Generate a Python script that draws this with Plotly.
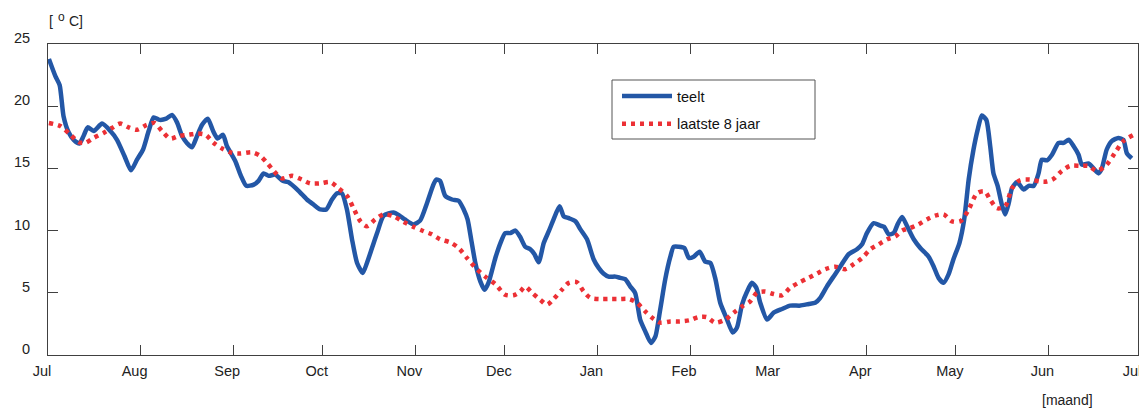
import pandas as pd
import plotly.graph_objects as go

# --- data (day offset from 1 July, temperature in deg C) ---
teelt_days = [0.3, 2.5, 3.9, 5.2, 6.9, 8.6, 10.5, 11.9, 13.3, 15.3, 18.1, 20.9, 23.1, 25.6, 27.8,
              29.8, 31.8, 33.7, 35.4, 37.4, 39.6, 41.5, 43.2, 44.9, 46.5, 48.2, 49.9, 51.6, 53.5,
              55.3, 56.8, 58.6, 59.9, 62.7, 64.6, 66.4, 68.9, 70.5, 72.2, 73.9, 76.1, 78.6, 80.4,
              83.9, 86.7, 88.9, 91.2, 93.2, 95.1, 96.8, 98.4, 100.1, 101.8, 103.5, 105.4, 106.8,
              108.5, 110.2, 112.4, 115.7, 117.7, 119.5, 122.4, 124.6, 126.9, 128.9, 130.0, 131.3,
              133.0, 135.3, 137.5, 139.2, 140.5, 141.7, 143.1, 144.8, 146.2, 147.5, 149.8, 151.5,
              153.1, 154.8, 156.5, 158.1, 159.8, 161.5, 162.9, 164.3, 166.0, 167.7, 169.3, 171.3,
              172.7, 174.4, 176.6, 178.3, 180.5, 182.7, 184.4, 186.0, 187.7, 190.0, 191.6, 193.3,
              195.0, 196.6, 198.3, 200.0, 201.9, 203.4, 205.0, 206.7, 208.4, 209.5, 211.2, 213.1,
              214.6, 216.2, 218.2, 220.1, 221.8, 223.5, 225.1, 227.4, 229.3, 230.7, 232.4, 234.1,
              235.7, 237.2, 238.5, 240.8, 243.0, 245.8, 248.5, 251.9, 254.7, 256.9, 258.6, 260.8,
              263.6, 265.8, 268.1, 270.9, 272.6, 274.2, 276.5, 278.7, 280.0, 281.5, 283.2, 284.5,
              286.0, 287.7, 289.9, 292.1, 294.9, 296.6, 298.2, 299.9, 301.6, 303.2, 305.2, 306.8,
              308.3, 309.9, 311.3, 312.7, 314.2, 315.5, 316.6, 318.0, 319.4, 320.5, 321.7, 322.8,
              324.5, 326.7, 328.4, 330.1, 331.7, 332.8, 334.5, 336.2, 338.4, 340.1, 341.8, 343.4,
              345.1, 346.2, 348.4, 350.1, 351.8, 352.9, 354.5, 356.2, 358.4, 360.1, 361.3, 362.9]
teelt_temp = [23.8, 22.4, 21.7, 19.2, 17.9, 17.3, 17.0, 17.6, 18.3, 18.0, 18.6, 18.0, 17.3, 16.0, 14.85,
              15.7, 16.5, 18.0, 19.1, 18.9, 19.0, 19.3, 18.7, 17.6, 17.05, 16.7, 17.6, 18.5, 19.0,
              18.0, 17.4, 17.7, 16.8, 15.6, 14.4, 13.6, 13.7, 14.0, 14.6, 14.4, 14.5, 14.0, 13.9,
              13.2, 12.5, 12.1, 11.7, 11.7, 12.5, 13.0, 13.0, 11.7, 9.3, 7.4, 6.6, 7.4,
              8.6, 9.8, 11.2, 11.45, 11.2, 10.9, 10.5, 10.8, 12.2, 13.6, 14.1, 14.0,
              12.8, 12.5, 12.4, 11.7, 10.9, 9.3, 7.4, 5.9, 5.25, 5.8, 7.8, 9.0,
              9.8, 9.8, 10.0, 9.5, 8.7, 8.5, 8.1, 7.45, 9.0, 9.95, 10.9, 11.96,
              11.15, 11.0, 10.75, 10.1, 9.3, 7.7, 7.0, 6.55, 6.3, 6.3, 6.2, 6.1,
              5.5, 5.0, 2.85, 1.9, 0.97, 1.5, 3.65, 6.1, 7.9, 8.7, 8.7, 8.6,
              7.8, 7.9, 8.3, 7.5, 7.4, 6.1, 4.2, 2.85, 1.8, 2.2, 4.05, 5.1,
              5.8, 5.4, 4.2, 2.85, 3.4, 3.7, 3.97, 3.97, 4.1, 4.2, 4.6, 5.5,
              6.5, 7.3, 8.1, 8.5, 8.9, 9.8, 10.6, 10.4, 10.3, 9.7, 9.8, 10.5,
              11.1, 10.35, 9.3, 8.6, 7.9, 7.1, 6.2, 5.8, 6.5, 7.7, 9.0, 10.9,
              14.1, 16.5, 18.1, 19.25, 18.9, 16.8, 14.6, 13.6, 12.1, 11.3, 12.2, 13.4,
              13.9, 13.3, 13.6, 13.6, 14.6, 15.7, 15.65, 16.1, 17.05, 17.05, 17.3, 16.8,
              16.1, 15.3, 15.4, 15.0, 14.6, 15.0, 16.5, 17.2, 17.45, 17.3, 16.2, 15.8]

avg_days = [0.3, 4.1, 7.5, 10.3, 12.5, 15.3, 18.6, 21.4, 24.2, 27.0, 29.8, 33.1, 35.6, 38.2, 40.9,
            43.8, 47.1, 49.9, 52.7, 55.5, 58.3, 61.6, 64.4, 68.3, 71.1, 73.3, 75.6, 78.3, 81.7,
            85.0, 87.8, 91.2, 94.5, 97.3, 100.1, 102.3, 104.6, 106.8, 109.6, 112.4, 115.7, 119.0,
            122.4, 125.8, 128.5, 131.3, 134.7, 137.5, 140.3, 143.6, 146.4, 149.8, 153.1, 155.9,
            158.1, 159.8, 162.1, 164.8, 167.1, 169.3, 172.1, 174.4, 177.1, 179.4, 181.6, 185.0,
            188.3, 191.6, 194.5, 197.2, 200.0, 202.8, 205.0, 208.4, 211.7, 215.0, 217.8, 220.6,
            223.4, 226.8, 229.6, 232.4, 235.1, 237.4, 240.1, 243.0, 245.8, 248.5, 251.3, 254.7,
            257.5, 260.3, 263.6, 267.0, 269.8, 272.6, 275.4, 278.2, 281.0, 283.8, 286.0, 288.7,
            291.5, 294.3, 297.1, 299.9, 302.7, 305.5, 308.3, 311.1, 313.6, 315.5, 317.8, 320.5,
            322.8, 325.5, 328.9, 332.3, 334.5, 336.7, 339.5, 342.3, 345.7, 348.4, 351.2, 354.5,
            357.3, 360.1, 363.5]
avg_temp = [18.65, 18.4, 17.7, 17.1, 17.05, 17.45, 17.85, 18.25, 18.6, 18.3, 18.1, 18.5, 18.65, 18.0, 17.4,
            17.6, 17.7, 17.8, 17.7, 17.05, 16.6, 16.25, 16.2, 16.3, 16.0, 15.45, 14.8, 14.2, 14.4,
            14.1, 13.8, 13.8, 13.9, 13.4, 12.8, 11.8, 10.75, 10.35, 10.9, 11.3, 11.15, 10.7,
            10.3, 9.95, 9.7, 9.3, 9.05, 8.6, 7.8, 6.9, 6.3, 5.7, 4.85, 4.8,
            5.1, 5.5, 5.0, 4.45, 4.05, 4.5, 5.25, 5.8, 5.85, 5.1, 4.6, 4.5,
            4.5, 4.5, 4.5, 4.2, 3.5, 2.9, 2.6, 2.7, 2.7, 2.8, 3.05, 3.05,
            2.6, 2.85, 3.4, 3.9, 4.3, 5.0, 5.1, 4.9, 4.8, 5.4, 5.8, 6.2,
            6.55, 6.9, 7.1, 6.9, 7.3, 7.8, 8.5, 8.9, 9.3, 9.55, 10.0, 10.2,
            10.5, 10.9, 11.2, 11.3, 10.75, 10.75, 11.7, 13.0, 13.15, 12.5, 11.8, 11.95,
            13.4, 14.05, 14.1, 13.95, 13.95, 14.15, 14.8, 15.2, 15.2, 15.2, 14.8, 15.3,
            16.25, 17.2, 17.7]

series_names = ["teelt", "laatste 8 jaar"]

start = pd.Timestamp("2001-07-01")
end = pd.Timestamp("2002-07-01")
x_teelt = start + pd.to_timedelta(teelt_days, unit="D")
x_avg = start + pd.to_timedelta(avg_days, unit="D")

BLUE = "#2357A6"
RED = "#EC3035"
AX = "#404040"
TXT = "#222"
FONT = "Liberation Sans, Arial, Helvetica, sans-serif"

fig = go.Figure()
fig.add_trace(go.Scatter(x=x_teelt, y=teelt_temp, mode="lines", name=series_names[0],
                         line=dict(color=BLUE, width=4.5, shape="spline", smoothing=0.6),
                         legendgroup="a"))
fig.add_trace(go.Scatter(x=x_avg, y=avg_temp, mode="lines", name=series_names[1],
                         line=dict(color=RED, width=4.5, dash="4px,5px", shape="spline", smoothing=0.8),
                         legendgroup="b"))

# page body has an 8px default margin -> figure sits at (8, 8) in the window
OFF = 8
W, H = 1139, 404
plot_l, plot_t = 40, 36
plot_r = W - (1138 - OFF)
plot_b = H - (355 - OFF)
pw = W - plot_l - plot_r
ph = H - plot_t - plot_b

def px_x(sx):
    return (sx - OFF - plot_l) / pw

def px_y(sy):
    return (H - plot_b - (sy - OFF)) / ph

fig.update_layout(
    width=W, height=H, autosize=False,
    margin=dict(l=plot_l, r=plot_r, t=plot_t, b=plot_b, autoexpand=False, pad=0),
    plot_bgcolor="white", paper_bgcolor="white",
    font=dict(family=FONT, size=14, color=TXT),
    showlegend=True,
    legend=dict(x=px_x(617), y=px_y(80), xanchor="left", yanchor="top",
                bgcolor="rgba(255,255,255,0)", borderwidth=0,
                font=dict(family=FONT, size=14.5, color="#111"),
                traceorder="grouped", tracegroupgap=6, itemwidth=50),
    shapes=[dict(type="rect", xref="paper", yref="paper",
                 x0=px_x(612), x1=px_x(815), y0=px_y(139), y1=px_y(80),
                 line=dict(color="#555", width=1), fillcolor="rgba(0,0,0,0)", layer="above")],
    annotations=[
        dict(text="[", xref="paper", yref="paper", x=px_x(47), y=px_y(21),
             xanchor="left", yanchor="middle", showarrow=False, font=dict(size=14, color=TXT)),
        dict(text="o", xref="paper", yref="paper", x=px_x(61), y=px_y(8.5),
             xanchor="center", yanchor="top", showarrow=False, font=dict(size=12, color=TXT)),
        dict(text="C]", xref="paper", yref="paper", x=px_x(67), y=px_y(21),
             xanchor="left", yanchor="middle", showarrow=False, font=dict(size=14, color=TXT)),
        dict(text="[maand]", xref="paper", yref="paper", x=px_x(1067), y=px_y(400),
             xanchor="center", yanchor="middle", showarrow=False, font=dict(size=14, color=TXT)),
    ],
)

fig.update_xaxes(type="date", range=[start, end], tick0=start, dtick="M1", tickformat="%b",
                 ticks="inside", ticklen=10, tickcolor=AX, tickwidth=1, automargin=False,
                 showline=True, linecolor=AX, linewidth=1, mirror="ticks",
                 showgrid=False, zeroline=False, ticklabelshift=-6, ticklabelstandoff=3,
                 ticklabeloverflow="allow", tickfont=dict(size=14.5, color=TXT))
fig.update_yaxes(range=[0, 25], tick0=0, dtick=5, automargin=False,
                 ticks="inside", ticklen=10, tickcolor=AX, tickwidth=1,
                 showline=True, linecolor=AX, linewidth=1, mirror="ticks",
                 showgrid=False, zeroline=False, ticklabelshift=-6, ticklabelstandoff=14,
                 ticklabeloverflow="allow", tickfont=dict(size=14.5, color=TXT))

fig.write_html("out.html")
